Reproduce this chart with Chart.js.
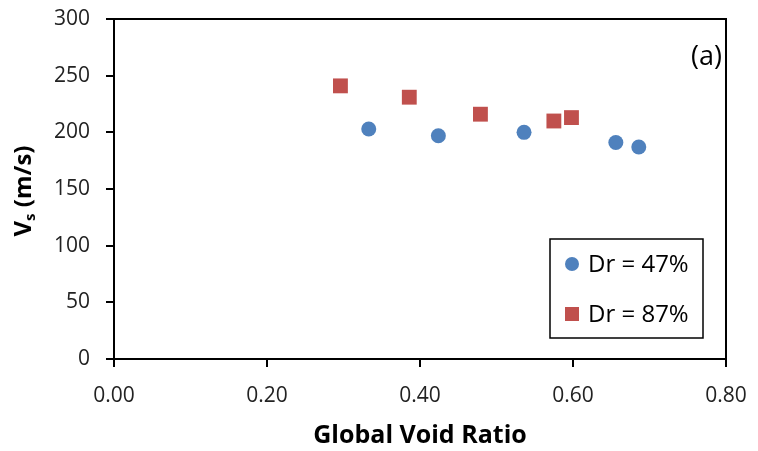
<!DOCTYPE html>
<html>
<head>
<meta charset="utf-8">
<script src="https://cdn.jsdelivr.net/npm/chart.js@4/dist/chart.umd.min.js"></script>
<style>
  html, body { margin: 0; padding: 0; background: #fff; }
  #wrap { width: 758px; height: 451px; }
</style>
</head>
<body>
<div id="wrap"><canvas id="myChart_vs"></canvas></div>
<script>
const dr47X = [0.333, 0.424, 0.536, 0.656, 0.686];
const dr47Y = [203, 197, 200, 191, 187];
const dr87X = [0.296, 0.386, 0.479, 0.575, 0.598];
const dr87Y = [241, 231, 216, 210, 213];
const xTicks = [0, 0.2, 0.4, 0.6, 0.8];
const yTicks = [0, 50, 100, 150, 200, 250, 300];

const fontFam = "'Open Sans', 'Liberation Sans', sans-serif";

const toPoints = (xs, ys) => xs.map((x, i) => ({ x: x, y: ys[i] }));

// frame, y title with subscript, panel label and legend box
const extras = {
  id: 'extras',
  afterDraw(chart) {
    const { ctx, chartArea: a } = chart;
    ctx.save();
    ctx.strokeStyle = '#000';
    ctx.lineWidth = 2;
    ctx.strokeRect(a.left, a.top, a.right - a.left, a.bottom - a.top);

    // y title: V_s (m/s)
    ctx.translate(24, 191);
    ctx.rotate(-Math.PI / 2);
    ctx.fillStyle = '#000';
    ctx.textBaseline = 'middle';
    ctx.font = 'bold 24px ' + fontFam;
    const w1 = ctx.measureText('V').width;
    ctx.font = 'bold 15px ' + fontFam;
    const w2 = ctx.measureText('s').width;
    ctx.font = 'bold 24px ' + fontFam;
    const w3 = ctx.measureText(' (m/s)').width;
    let x = -(w1 + w2 + w3) / 2;
    ctx.textAlign = 'left';
    ctx.fillText('V', x, 0);
    ctx.font = 'bold 15px ' + fontFam;
    ctx.fillText('s', x + w1, 7);
    ctx.font = 'bold 24px ' + fontFam;
    ctx.fillText(' (m/s)', x + w1 + w2, 0);
    ctx.restore();

    ctx.save();
    ctx.fillStyle = '#000';
    ctx.font = '27px ' + fontFam;
    ctx.textAlign = 'right';
    ctx.textBaseline = 'middle';
    ctx.fillText('(a)', a.right - 4, 57);

    // legend
    const lx = 550, ly = 239, lw = 153, lh = 99;
    ctx.fillStyle = '#fff';
    ctx.fillRect(lx, ly, lw, lh);
    ctx.lineWidth = 1.5;
    ctx.strokeStyle = '#000';
    ctx.strokeRect(lx, ly, lw, lh);
    chart.data.datasets.forEach((ds, i) => {
      const cy = ly + 25 + i * 50;
      ctx.fillStyle = ds.backgroundColor;
      if (ds.pointStyle === 'rect') {
        ctx.fillRect(565, cy - 7, 14, 14);
      } else {
        ctx.beginPath();
        ctx.arc(572, cy, 7, 0, Math.PI * 2);
        ctx.fill();
      }
      ctx.fillStyle = '#000';
      ctx.font = '24px ' + fontFam;
      ctx.textAlign = 'left';
      ctx.fillText(ds.label, 588, cy + 1);
    });
    ctx.restore();
  }
};

new Chart(document.getElementById('myChart_vs'), {
  type: 'scatter',
  data: {
    datasets: [
      {
        label: 'Dr = 47%',
        data: toPoints(dr47X, dr47Y),
        pointStyle: 'circle',
        pointRadius: 7.5,
        backgroundColor: '#4F81BD',
        borderColor: '#4F81BD',
        borderWidth: 0
      },
      {
        label: 'Dr = 87%',
        data: toPoints(dr87X, dr87Y),
        pointStyle: 'rect',
        pointRadius: 10.5,
        backgroundColor: '#C0504D',
        borderColor: '#C0504D',
        borderWidth: 0
      }
    ]
  },
  options: {
    responsive: true,
    maintainAspectRatio: false,
    animation: false,
    layout: { padding: { top: 19, right: 32, left: 0, bottom: 0 } },
    plugins: { legend: { display: false }, tooltip: { enabled: false } },
    scales: {
      x: {
        type: 'linear',
        min: 0, max: 0.8,
        afterBuildTicks: s => { s.ticks = xTicks.map(v => ({ value: v })); },
        afterFit: s => { s.height = 92; s.paddingLeft = 0; s.paddingRight = 0; },
        border: { color: '#000', width: 2 },
        grid: { drawOnChartArea: false, color: '#000', lineWidth: 2, tickLength: 8 },
        ticks: {
          color: '#222', padding: 16,
          font: { family: fontFam, size: 21 },
          callback: v => v.toFixed(2)
        },
        title: {
          display: true, text: 'Global Void Ratio', color: '#000',
          font: { family: fontFam, size: 25, weight: 'bold' },
          padding: { top: 4, bottom: 0 }
        }
      },
      y: {
        min: 0, max: 300,
        afterBuildTicks: s => { s.ticks = yTicks.map(v => ({ value: v })); },
        afterFit: s => { s.width = 114; s.paddingTop = 0; s.paddingBottom = 0; },
        border: { color: '#000', width: 2 },
        grid: { drawOnChartArea: false, color: '#000', lineWidth: 2, tickLength: 8 },
        ticks: {
          color: '#222', padding: 16,
          font: { family: fontFam, size: 21 }
        }
      }
    }
  },
  plugins: [extras]
});
</script>
</body>
</html>
